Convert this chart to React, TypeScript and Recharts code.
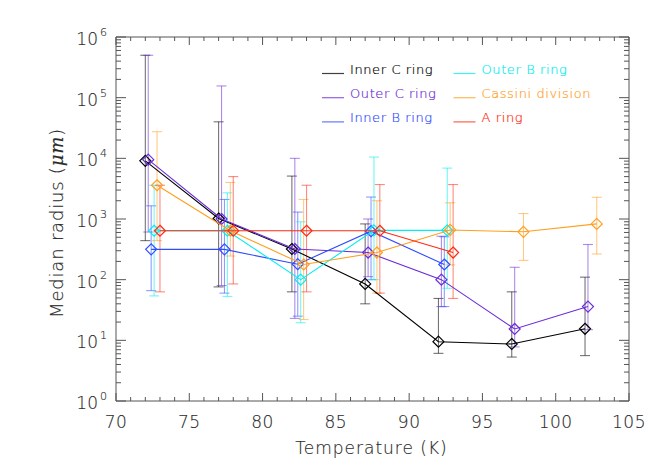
import React from 'react';
import { ScatterChart, Scatter, XAxis, YAxis, ErrorBar } from 'recharts';

const FONT = '"DejaVu Sans", "Liberation Sans", sans-serif';
const INK = '#2a2a2a';
const AXIS = '#555555';

// Inner C ring
const innerCTemp = [72.0, 77.0, 82.0, 87.0, 92.0, 97.0, 102.0];
const innerCMedian = [9100, 1020, 320, 85, 9.5, 8.7, 15.5];
const innerCLow = [440, 76, 63, 40, 6.1, 5.3, 5.6];
const innerCHigh = [500000, 40000, 5100, 830, 49, 63, 110];

// Outer C ring
const outerCTemp = [72.2, 77.2, 82.2, 87.2, 92.2, 97.2, 102.2];
const outerCMedian = [9500, 1000, 320, 280, 100, 15.4, 36];
const outerCLow = [610, 80, 23, 112, 36, 7.8, 15];
const outerCHigh = [500000, 156000, 10000, 1000, 520, 160, 380];

// Inner B ring
const innerBTemp = [72.4, 77.4, 82.4, 87.4, 92.4];
const innerBMedian = [316, 316, 180, 630, 178];
const innerBLow = [66, 60, 25, 100, 36];
const innerBHigh = [1650, 2100, 1300, 2300, 510];

// Outer B ring
const outerBTemp = [72.6, 77.6, 82.6, 87.6, 92.6];
const outerBMedian = [640, 640, 100, 650, 650];
const outerBLow = [54, 53, 19.5, 100, 72];
const outerBHigh = [3600, 2700, 900, 10500, 6900];

// Cassini division
const cassiniTemp = [72.8, 77.8, 82.8, 87.8, 92.8, 97.8, 102.8];
const cassiniMedian = [3600, 640, 178, 280, 660, 615, 830];
const cassiniLow = [440, 245, 22, 60, 175, 208, 265];
const cassiniHigh = [27500, 4000, 2100, 2000, 1850, 1230, 2280];

// A ring
const aRingTemp = [73.0, 78.0, 83.0, 88.0, 93.0];
const aRingMedian = [640, 640, 640, 640, 280];
const aRingLow = [63, 85, 63, 60, 49];
const aRingHigh = [3600, 5000, 3600, 3700, 3700];

const xMajorTicks = [70, 75, 80, 85, 90, 95, 100, 105];
const yMajorTicks = [1, 10, 100, 1000, 10000, 100000, 1000000];

// minor ticks: every kelvin, and 2..9 inside each decade
const xTicks: number[] = [];
for (let t = 70; t <= 105; t++) xTicks.push(t);
const yTicks: number[] = [];
yMajorTicks.forEach((d, i) => {
  yTicks.push(d);
  if (i < yMajorTicks.length - 1) for (let m = 2; m <= 9; m++) yTicks.push(d * m);
});

const makeRows = (temp: number[], med: number[], low: number[], high: number[]) =>
  temp.map((t, i) => ({ x: t, y: med[i], err: [med[i] - low[i], high[i] - med[i]] }));

const series = [
  { name: 'Inner C ring', color: '#000000', rows: makeRows(innerCTemp, innerCMedian, innerCLow, innerCHigh) },
  { name: 'Outer C ring', color: '#6b2bd9', rows: makeRows(outerCTemp, outerCMedian, outerCLow, outerCHigh) },
  { name: 'Inner B ring', color: '#2f4cff', rows: makeRows(innerBTemp, innerBMedian, innerBLow, innerBHigh) },
  { name: 'Outer B ring', color: '#00eef0', rows: makeRows(outerBTemp, outerBMedian, outerBLow, outerBHigh) },
  { name: 'Cassini division', color: '#ff9f1f', rows: makeRows(cassiniTemp, cassiniMedian, cassiniLow, cassiniHigh) },
  { name: 'A ring', color: '#ff2a12', rows: makeRows(aRingTemp, aRingMedian, aRingLow, aRingHigh) },
];

const textStyle = { fontFamily: FONT, fontWeight: 200, fill: INK, stroke: INK, strokeWidth: 0.15 };

const BottomTick = (props: any) => {
  const { x, y, payload } = props;
  const v = payload.value;
  const major = xMajorTicks.includes(v);
  return (
    <g>
      <line x1={x} y1={y} x2={x} y2={y - (major ? 8 : 4)} stroke={AXIS} />
      {major && (
        <text x={x} y={y + 27} textAnchor="middle" fontSize={17} letterSpacing={0.5} {...textStyle}>
          {v}
        </text>
      )}
    </g>
  );
};

const TopTick = (props: any) => {
  const { x, y, payload } = props;
  const major = xMajorTicks.includes(payload.value);
  return <line x1={x} y1={y} x2={x} y2={y + (major ? 8 : 4)} stroke={AXIS} />;
};

const isDecade = (v: number) => {
  const e = Math.log10(v);
  return Math.abs(e - Math.round(e)) < 1e-6;
};

const LeftTick = (props: any) => {
  const { x, y, payload } = props;
  const v = payload.value;
  const major = isDecade(v);
  return (
    <g>
      <line x1={x} y1={y} x2={x + (major ? 10 : 5)} y2={y} stroke={AXIS} />
      {major && (
        <g>
          <text x={x - 18} y={y + 8} textAnchor="end" fontSize={17} {...textStyle}>10</text>
          <text x={x - 16} y={y - 1} textAnchor="start" fontSize={11} {...textStyle}>
            {Math.round(Math.log10(v))}
          </text>
        </g>
      )}
    </g>
  );
};

const RightTick = (props: any) => {
  const { x, y, payload } = props;
  const major = isDecade(payload.value);
  return <line x1={x} y1={y} x2={x - (major ? 10 : 5)} y2={y} stroke={AXIS} />;
};

const Diamond = (color: string) => (props: any) => {
  const { cx, cy } = props;
  if (cx == null || cy == null) return null;
  const r = 5.5;
  return (
    <polygon
      points={`${cx},${cy - r} ${cx + r},${cy} ${cx},${cy + r} ${cx - r},${cy}`}
      fill="none"
      stroke={color}
      strokeWidth={1.2}
    />
  );
};

const XLabel = (props: any) => {
  const vb = props.viewBox || { x: 116, y: 401, width: 513 };
  return (
    <text x={vb.x + vb.width / 2 - 1} y={vb.y + 53} textAnchor="middle" fontSize={17} letterSpacing={1} {...textStyle}>
      Temperature (K)
    </text>
  );
};

const YLabel = (props: any) => {
  const vb = props.viewBox || { y: 37, height: 364 };
  const cx = 63;
  const cy = vb.y + vb.height / 2 + 4;
  return (
    <text
      x={cx}
      y={cy}
      transform={`rotate(-90 ${cx} ${cy})`}
      textAnchor="middle"
      fontSize={18}
      letterSpacing={0.8}
      {...textStyle}
    >
      Median radius (<tspan fontFamily='"DejaVu Serif", serif' fontStyle="italic">μm</tspan>)
    </text>
  );
};

const LegendBox = () => (
  <svg width={664} height={475} style={{ position: 'absolute', left: 0, top: 0, pointerEvents: 'none' }}>
    {series.map((s, i) => {
      const col = Math.floor(i / 3);
      const row = i % 3;
      const lx = 322 + col * 131.5;
      const ly = 73.5 + row * 24.2;
      return (
        <g key={s.name}>
          <line x1={lx} y1={ly} x2={lx + 22} y2={ly} stroke={s.color} strokeOpacity={0.75} strokeWidth={1.2} />
          <text
            x={lx + 28}
            y={ly}
            fontSize={13}
            letterSpacing={0.6}
            fontFamily={FONT}
            fontWeight={200}
            fill={s.color}
            stroke={s.color}
            strokeWidth={0.2}
          >
            {s.name}
          </text>
        </g>
      );
    })}
  </svg>
);

export default function App() {
  return (
    <div style={{ position: 'absolute', left: 0, top: 0, width: 664, height: 475, background: '#ffffff', fontFamily: FONT }}>
      <ScatterChart width={664} height={475} margin={{ top: 36, right: 34, bottom: 14, left: 46 }}>
        <XAxis
          xAxisId="x"
          dataKey="x"
          type="number"
          domain={[70, 105]}
          ticks={xTicks}
          interval={0}
          tickSize={0}
          tickMargin={0}
          tickLine={false}
          tick={<BottomTick />}
          axisLine={{ stroke: AXIS }}
          height={60}
          allowDataOverflow
          label={<XLabel />}
        />
        <XAxis
          xAxisId="top"
          orientation="top"
          dataKey="x"
          type="number"
          domain={[70, 105]}
          ticks={xTicks}
          interval={0}
          tickSize={0}
          tickMargin={0}
          tickLine={false}
          tick={<TopTick />}
          axisLine={{ stroke: AXIS }}
          height={1}
          allowDataOverflow
        />
        <YAxis
          yAxisId="left"
          dataKey="y"
          type="number"
          scale="log"
          domain={[1, 1000000]}
          ticks={yTicks}
          interval={0}
          tickSize={0}
          tickMargin={0}
          tickLine={false}
          tick={<LeftTick />}
          axisLine={{ stroke: AXIS }}
          width={70}
          allowDataOverflow
          label={<YLabel />}
        />
        <YAxis
          yAxisId="right"
          orientation="right"
          dataKey="y"
          type="number"
          scale="log"
          domain={[1, 1000000]}
          ticks={yTicks}
          interval={0}
          tickSize={0}
          tickMargin={0}
          tickLine={false}
          tick={<RightTick />}
          axisLine={{ stroke: AXIS }}
          width={1}
          allowDataOverflow
        />
        {series.map((s) => (
          <Scatter
            key={s.name}
            name={s.name}
            xAxisId="x"
            yAxisId="left"
            data={s.rows}
            fill="none"
            line={{ stroke: s.color, strokeWidth: 1.1 }}
            lineType="joint"
            shape={Diamond(s.color)}
            isAnimationActive={false}
          >
            <ErrorBar
              dataKey="err"
              direction="y"
              width={5}
              stroke={s.color}
              strokeOpacity={0.55}
              strokeWidth={1.1}
              isAnimationActive={false}
            />
          </Scatter>
        ))}
      </ScatterChart>
      <LegendBox />
    </div>
  );
}
